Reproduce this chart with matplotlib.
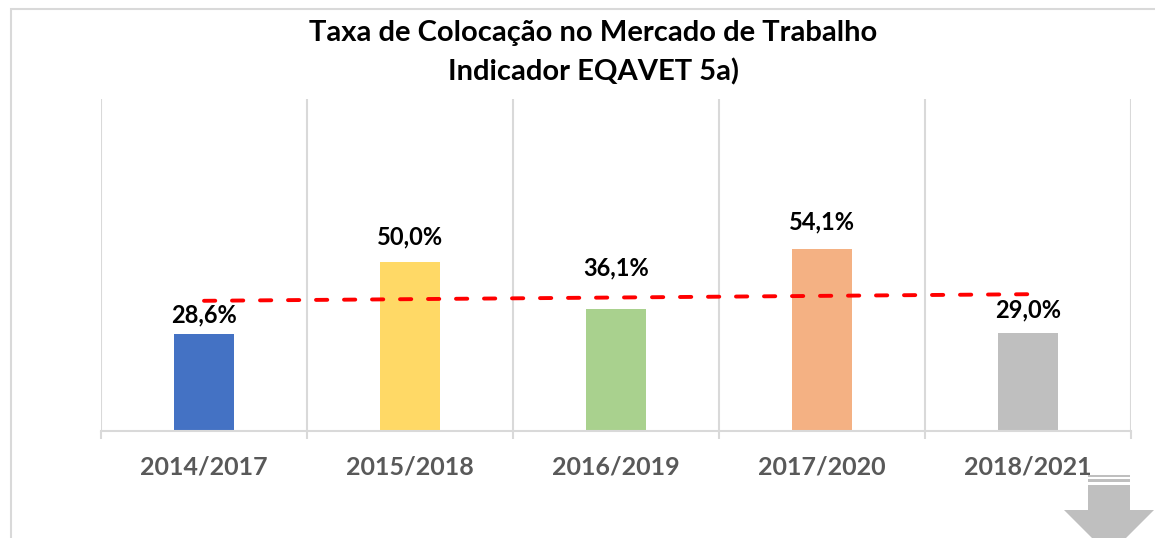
import matplotlib.pyplot as plt
import numpy as np
from matplotlib.patches import Polygon, Rectangle

# data
periods = ["2014/2017", "2015/2018", "2016/2019", "2017/2020", "2018/2021"]
rates = [28.6, 50.0, 36.1, 54.1, 29.0]
bar_colors = ["#4472C4", "#FFD966", "#A9D18E", "#F4B183", "#BFBFBF"]
# label gap above each bar (pixels), labels were moved by hand in the original
label_gaps = [12, 18, 34, 19, 16]

plt.rcParams['font.family'] = ['Lato', 'DejaVu Sans']

fig = plt.figure(figsize=(11.55, 5.38), dpi=100)
ax = fig.add_axes([101 / 1155, 1 - 430.5 / 538, 1030 / 1155, 331.8 / 538])

x = np.arange(len(periods))
ax.bar(x, rates, width=0.29, color=bar_colors, zorder=2)

for xi, v, gap in zip(x, rates, label_gaps):
    ax.annotate(f"{v:.1f}%".replace(".", ","), (xi, v), xytext=(0, gap),
                textcoords="offset pixels", ha="center", va="baseline",
                fontsize=17, fontweight="bold", color="black")

# linear trendline (as in the excel chart)
k, b = np.polyfit(x, rates, 1)
trend, = ax.plot(x, k * x + b, color="#FF0000", lw=2.8, zorder=3,
                 dash_capstyle="round")
trend.set_dashes((2.9, 4.3))

ax.set_xlim(-0.5, len(periods) - 0.5)
ax.set_ylim(0, 98.7)
ax.set_yticks([])
ax.set_xticks(x)
ax.set_xticklabels(periods, fontsize=18, fontweight="bold", color="#595959")
ax.tick_params(axis="x", which="major", length=0, pad=18)
ax.set_xticks(np.arange(-0.5, len(periods)), minor=True)
ax.tick_params(axis="x", which="minor", length=6, width=1.5, color="#D9D9D9")
ax.grid(axis="x", which="minor", color="#D9D9D9", lw=1.5, zorder=0)

for s in ["top", "left", "right"]:
    ax.spines[s].set_visible(False)
ax.spines["bottom"].set_color("#D9D9D9")
ax.spines["bottom"].set_linewidth(1.5)

fig.text(593 / 1155, 1 - 33 / 538, "Taxa de Colocação no Mercado de Trabalho",
         ha="center", va="center", fontsize=21, fontweight="bold")
fig.text(593 / 1155, 1 - 72 / 538, "Indicador EQAVET 5a)",
         ha="center", va="center", fontsize=21, fontweight="bold")

# chart area border
fig.patches.append(Rectangle((10.5 / 1155, -0.1), 1.2, 1 - 9.5 / 538 + 0.1,
                             transform=fig.transFigure, fill=False,
                             edgecolor="#D9D9D9", lw=1.5))

# grey block arrow in the bottom right corner
W, H = 1155, 538
def fpt(px, py):
    return (px / W, 1 - py / H)

arrow_col = "#BFBFBF"
for y0, y1 in [(475, 477), (479, 482)]:
    fig.patches.append(Polygon([fpt(1088, y0), fpt(1130, y0), fpt(1130, y1), fpt(1088, y1)],
                               closed=True, transform=fig.transFigure,
                               facecolor=arrow_col, edgecolor="none"))
fig.patches.append(Polygon([fpt(1088, 485), fpt(1130, 485), fpt(1130, 510), fpt(1154, 510),
                            fpt(1109, 555), fpt(1064, 510), fpt(1088, 510)],
                           closed=True, transform=fig.transFigure,
                           facecolor=arrow_col, edgecolor="none"))

fig.savefig("out.png", dpi=100)
